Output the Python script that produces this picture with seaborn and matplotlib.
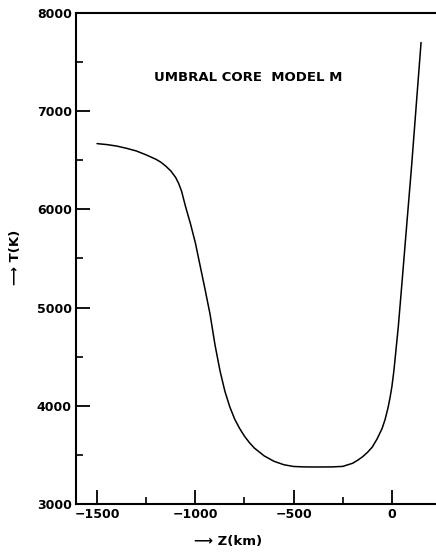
import matplotlib
matplotlib.use("Agg")
import matplotlib.pyplot as plt
from matplotlib.ticker import MultipleLocator
import seaborn as sns
import pandas as pd

# Data
z_km = [-1500, -1450, -1400, -1350, -1300, -1250, -1200, -1175, -1150, -1125,
        -1100, -1085, -1070, -1050, -1025, -1000, -975, -950, -925, -900,
        -875, -850, -825, -800, -775, -750, -725, -700, -650, -600,
        -550, -500, -450, -400, -350, -300, -250, -200, -175, -150,
        -125, -100, -75, -50, -35, -20, -10, 0, 10, 20,
        32, 50, 75, 100, 125, 148]
T_K = [6670, 6660, 6645, 6622, 6595, 6555, 6510, 6480, 6440, 6392,
       6325, 6265, 6185, 6030, 5855, 5660, 5420, 5180, 4930, 4620,
       4360, 4150, 3990, 3865, 3770, 3690, 3625, 3570, 3490, 3435,
       3400, 3382, 3378, 3377, 3377, 3378, 3383, 3415, 3445, 3480,
       3525, 3580, 3665, 3770, 3860, 3980, 4080, 4200, 4360, 4560,
       4800, 5230, 5840, 6445, 7100, 7700]

x_ticks_major = [-1500, -1000, -500, 0]
y_ticks_major = [3000, 4000, 5000, 6000, 7000, 8000]
title_text = "UMBRAL CORE  MODEL M"
xlabel_text = "⟶ Z(km)"
ylabel_text = "⟶ T(K)"

df = pd.DataFrame({"z": z_km, "T": T_K})

sns.set_style("ticks")
plt.rcParams["font.family"] = ["DejaVu Sans"]
plt.rcParams["text.color"] = "black"
plt.rcParams["xtick.color"] = "black"
plt.rcParams["ytick.color"] = "black"

fig = plt.figure(figsize=(4.36, 5.52), dpi=100)
ax = fig.add_axes([76 / 436, 48 / 552, 360 / 436, 491 / 552])

sns.lineplot(data=df, x="z", y="T", ax=ax, color="black", linewidth=1.1)

ax.set_xlim(-1607, 224)
ax.set_ylim(3000, 8000)
ax.set_xticks(x_ticks_major)
ax.set_yticks(y_ticks_major)
ax.xaxis.set_minor_locator(MultipleLocator(250))
ax.yaxis.set_minor_locator(MultipleLocator(500))
ax.tick_params(which="major", direction="in", length=10, width=1.3, colors="black",
               labelsize=9, pad=3)
ax.tick_params(which="minor", direction="in", length=5, width=1.2, colors="black")
for lab in ax.get_xticklabels() + ax.get_yticklabels():
    lab.set_fontweight("bold")
    lab.set_color("black")

ax.spines["right"].set_visible(False)
for s in ["left", "bottom", "top"]:
    ax.spines[s].set_linewidth(1.5)
    ax.spines[s].set_color("black")

ax.set_xlabel("")
ax.set_ylabel("")

ax.text(-732, 7348, title_text, ha="center", va="center", fontsize=9.5,
        fontweight="bold", color="black")

fig.text(228 / 436, 1 - 541 / 552, xlabel_text, ha="center", va="center",
         fontsize=9.5, fontweight="bold", color="black")
fig.text(15 / 436, 1 - 257 / 552, ylabel_text, ha="center", va="center",
         fontsize=9.5, fontweight="bold", rotation=90, color="black")

fig.savefig("out.png", dpi=100)
